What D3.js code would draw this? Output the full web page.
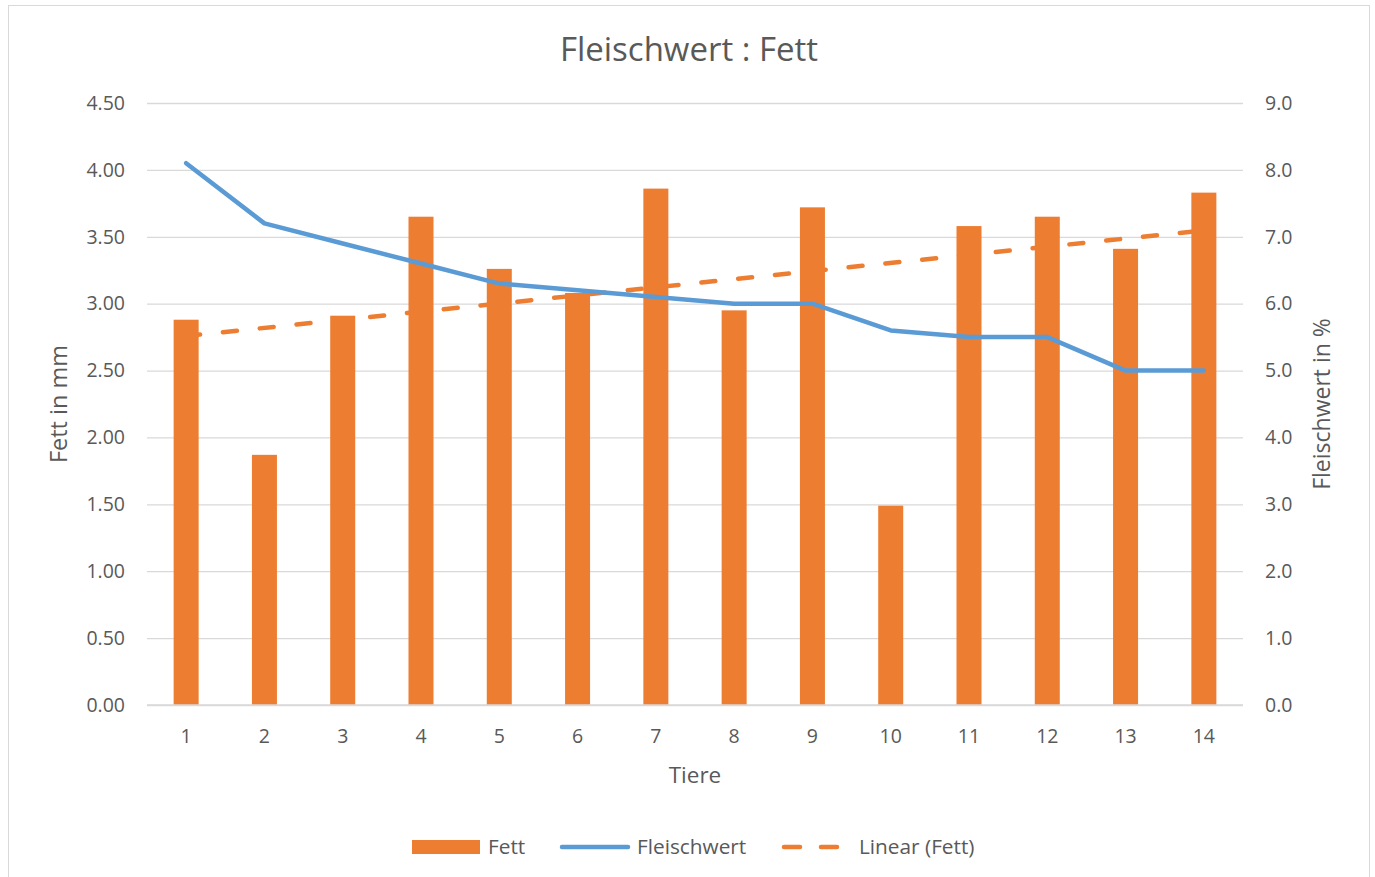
<!DOCTYPE html>
<html>
<head>
<meta charset="utf-8">
<script src="https://cdn.jsdelivr.net/npm/d3@7"></script>
<style>
    body { margin: 0; background: #fff; font-family: "Open Sans", sans-serif; }
    #chart { width: 1375px; height: 877px; }
    text { fill: #595959; }
</style>
</head>
<body>
<div id="chart"></div>
<script>
// data
const tiere = ["1", "2", "3", "4", "5", "6", "7", "8", "9", "10", "11", "12", "13", "14"]
const fett = [2.88, 1.87, 2.91, 3.65, 3.26, 3.08, 3.86, 2.95, 3.72, 1.49, 3.58, 3.65, 3.41, 3.83]
const fleischwert = [8.1, 7.2, 6.9, 6.6, 6.3, 6.2, 6.1, 6.0, 6.0, 5.6, 5.5, 5.5, 5.0, 5.0]
const leftTicks = [0, 0.5, 1, 1.5, 2, 2.5, 3, 3.5, 4, 4.5]
const rightTicks = [0, 1, 2, 3, 4, 5, 6, 7, 8, 9]

const ORANGE = "#ed7d31"
const BLUE = "#5b9bd5"

class FleischChart {
    constructor(div) {
        this.div = div
        this.initSvg()
        this.draw_chart()
        this.add_legend()
    }
    initSvg() {
        this.init_margin()
        this.init_scale()
        this.init_axis()
        this.init_label()
    }
    init_margin() {
        this.width = 1375
        this.height = 877
        this.margin = { left: 147, right: 132, top: 103, bottom: 172 }
        this.innerW = this.width - this.margin.left - this.margin.right
        this.innerH = this.height - this.margin.top - this.margin.bottom
        this.svg = d3.select(this.div).append("svg")
            .attr("width", this.width)
            .attr("height", this.height)
        // chart frame
        this.svg.append("rect")
            .attr("x", 8.5).attr("y", 5.5)
            .attr("width", 1361).attr("height", 880)
            .attr("fill", "none")
            .attr("stroke", "#d9d9d9")
        this.ChartArea = this.svg.append("g")
            .attr("transform", `translate(${this.margin.left},${this.margin.top})`)
    }
    init_scale() {
        this.x = d3.scaleBand().domain(tiere).range([0, this.innerW]).padding(0)
        this.yL = d3.scaleLinear().domain([0, 4.5]).range([this.innerH, 0])
        this.yR = d3.scaleLinear().domain([0, 9]).range([this.innerH, 0])
    }
    init_axis() {
        // gridlines
        this.ChartArea.append("g")
            .call(d3.axisLeft(this.yL).tickValues(leftTicks).tickSize(-this.innerW).tickFormat(""))
            .call(g => g.select(".domain").remove())
            .call(g => g.selectAll("line").attr("stroke", "#d9d9d9").attr("stroke-width", 1.3))

        const axisL = this.ChartArea.append("g")
            .call(d3.axisLeft(this.yL).tickValues(leftTicks).tickSize(0).tickPadding(22).tickFormat(d3.format(".2f")))
        const axisR = this.ChartArea.append("g")
            .attr("transform", `translate(${this.innerW},0)`)
            .call(d3.axisRight(this.yR).tickValues(rightTicks).tickSize(0).tickPadding(22).tickFormat(d3.format(".1f")))
        const axisX = this.ChartArea.append("g")
            .attr("transform", `translate(0,${this.innerH})`)
            .call(d3.axisBottom(this.x).tickSize(0).tickPadding(24))
        ;[axisL, axisR, axisX].forEach(a => {
            a.select(".domain").remove()
            a.selectAll("text").attr("font-size", 19.5).attr("font-family", "Open Sans").attr("fill", "#595959")
        })
        this.AxisX = axisX
    }
    init_label() {
        this.svg.append("text")
            .attr("x", 689).attr("y", 61)
            .attr("text-anchor", "middle")
            .attr("font-size", 33)
            .text("Fleischwert : Fett")
        this.svg.append("text")
            .attr("transform", `translate(67,${this.margin.top + this.innerH / 2}) rotate(-90)`)
            .attr("text-anchor", "middle")
            .attr("font-size", 23.5)
            .text("Fett in mm")
        this.svg.append("text")
            .attr("transform", `translate(1330,${this.margin.top + this.innerH / 2}) rotate(-90)`)
            .attr("text-anchor", "middle")
            .attr("font-size", 23)
            .text("Fleischwert in %")
        this.svg.append("text")
            .attr("x", this.margin.left + this.innerW / 2).attr("y", 783)
            .attr("text-anchor", "middle")
            .attr("font-size", 22.5)
            .text("Tiere")
    }
    draw_chart() {
        this.DrawArea = this.ChartArea.append("g")
        this.draw_bars()
        this.draw_trend()
        this.draw_line()
        // bottom axis line over bars
        this.DrawArea.append("line")
            .attr("x1", 0).attr("x2", this.innerW)
            .attr("y1", this.innerH).attr("y2", this.innerH)
            .attr("stroke", "#d9d9d9").attr("stroke-width", 1.5)
    }
    draw_bars() {
        const bw = 25
        this.DrawArea.selectAll("rect.bar")
            .data(fett)
            .join("rect")
            .attr("class", "bar")
            .attr("x", (d, i) => this.x(tiere[i]) + this.x.bandwidth() / 2 - bw / 2)
            .attr("y", d => this.yL(d))
            .attr("width", bw)
            .attr("height", d => this.innerH - this.yL(d))
            .attr("fill", ORANGE)
    }
    draw_trend() {
        // Excel style linear trendline of Fett
        const xs = fett.map((d, i) => i + 1)
        const mx = d3.mean(xs), my = d3.mean(fett)
        const slope = d3.sum(xs, (x, i) => (x - mx) * (fett[i] - my)) / d3.sum(xs, x => (x - mx) ** 2)
        const icpt = my - slope * mx
        const ends = [1, tiere.length].map(n => [n, icpt + slope * n])
        const cx = n => this.x(tiere[n - 1]) + this.x.bandwidth() / 2
        this.DrawArea.append("path")
            .datum(ends)
            .attr("d", d3.line().x(d => cx(d[0])).y(d => this.yL(d[1])))
            .attr("stroke", ORANGE)
            .attr("stroke-width", 4.5)
            .attr("stroke-linecap", "round")
            .attr("stroke-dasharray", "14,23")
            .attr("fill", "none")
    }
    draw_line() {
        this.DrawArea.append("path")
            .datum(fleischwert)
            .attr("d", d3.line()
                .x((d, i) => this.x(tiere[i]) + this.x.bandwidth() / 2)
                .y(d => this.yR(d)))
            .attr("stroke", BLUE)
            .attr("stroke-width", 4.5)
            .attr("stroke-linecap", "round")
            .attr("stroke-linejoin", "round")
            .attr("fill", "none")
    }
    add_legend() {
        const lg = this.svg.append("g").attr("font-size", 20.8)
        const y = 847
        lg.append("rect").attr("x", 412).attr("y", y - 7).attr("width", 68).attr("height", 14).attr("fill", ORANGE)
        lg.append("text").attr("x", 488).attr("y", y + 7).text("Fett")
        lg.append("line").attr("x1", 562).attr("x2", 628).attr("y1", y).attr("y2", y)
            .attr("stroke", BLUE).attr("stroke-width", 4.5).attr("stroke-linecap", "round")
        lg.append("text").attr("x", 637).attr("y", y + 7).text("Fleischwert")
        lg.append("line").attr("x1", 784).attr("x2", 838).attr("y1", y).attr("y2", y)
            .attr("stroke", ORANGE).attr("stroke-width", 4.5).attr("stroke-linecap", "round")
            .attr("stroke-dasharray", "16,21")
        lg.append("text").attr("x", 859).attr("y", y + 7).text("Linear (Fett)")
    }
}

new FleischChart(document.getElementById("chart"))
</script>
</body>
</html>
